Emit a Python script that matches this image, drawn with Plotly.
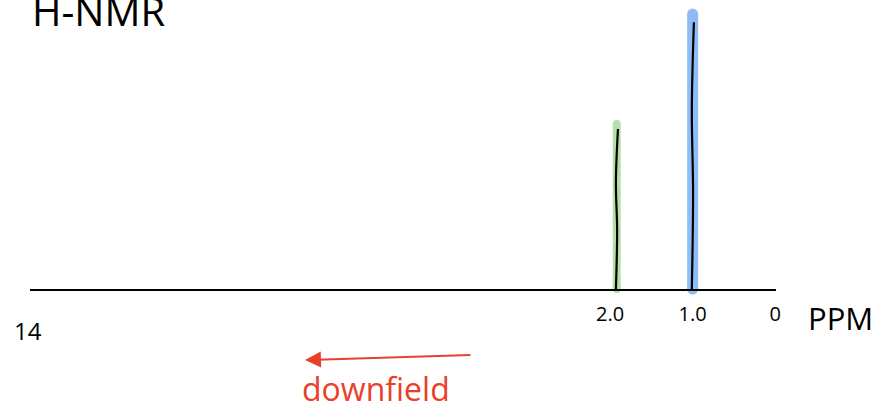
import plotly.graph_objects as go

# Data
peak_shift = [1.92, 1.0]         # ppm
peak_height = [0.60, 1.00]       # relative intensity
tick_vals = [2.0, 1.0, 0.0]
tick_labels = ["2.0", "1.0", "0"]
axis_start_label = "14"
unit_label = "PPM"
title_text = "H-NMR"
direction_label = "downfield"

peak_colors = ["#b6dea8", "#8fbcf5"]
peak_widths = [8, 11]

fig = go.Figure()
for x, h, c, w in zip(peak_shift, peak_height, peak_colors, peak_widths):
    fig.add_trace(go.Scatter(
        x=[x, x], y=[0, h], mode="lines+markers",
        line=dict(color=c, width=w),
        marker=dict(color=c, size=w, line=dict(width=0)),
        cliponaxis=False, hoverinfo="skip", showlegend=False))
for x, h in zip(peak_shift, peak_height):
    fig.add_trace(go.Scatter(
        x=[x - 0.015, x + 0.01, x - 0.005, x + 0.01], y=[h * 0.97, h * 0.65, h * 0.35, 0],
        mode="lines", line=dict(color="black", width=2.2, shape="spline"),
        cliponaxis=False, hoverinfo="skip", showlegend=False))

font_main = "Open Sans, DejaVu Sans, sans-serif"

fig.update_layout(
    width=888, height=409,
    margin=dict(l=30, r=112, t=0, b=120, pad=0, autoexpand=False),
    paper_bgcolor="white", plot_bgcolor="white",
    showlegend=False,
    xaxis=dict(range=[9.03, -0.01], showgrid=False, zeroline=False, automargin=False,
               showline=True, linecolor="black", linewidth=2,
               tickvals=tick_vals, ticktext=tick_labels,
               ticks="outside", ticklen=6, tickcolor="rgba(0,0,0,0)",
               tickfont=dict(size=20, color="black", family=font_main)),
    yaxis=dict(range=[0, 1.051], visible=False, automargin=False),
    font=dict(family=font_main),
)

fig.add_annotation(text=title_text, xref="paper", yref="paper", x=0.0, y=0.965,
                   xanchor="left", yanchor="middle", showarrow=False,
                   font=dict(size=40, color="black", family=font_main))
fig.add_annotation(text=axis_start_label, xref="paper", yref="paper", x=-0.003, y=-0.142,
                   xanchor="center", yanchor="middle", showarrow=False,
                   font=dict(size=24, color="black", family=font_main))
fig.add_annotation(text=unit_label, xref="paper", yref="paper", x=1.086, y=-0.10,
                   xanchor="center", yanchor="middle", showarrow=False,
                   font=dict(size=31, color="black", family=font_main))
fig.add_annotation(text=direction_label, xref="paper", yref="paper", x=0.464, y=-0.345,
                   xanchor="center", yanchor="middle", showarrow=False,
                   font=dict(size=32, color="#e8402a", family=font_main))
fig.add_annotation(text="", xref="paper", yref="paper", x=0.3686, y=-0.2457,
                   ax=167, ay=-5, showarrow=True, arrowhead=2, arrowsize=1.6,
                   arrowwidth=2, arrowcolor="#e8402a")

fig.write_html("out.html", config={"displayModeBar": False},
               post_script="document.body.style.margin='0';document.body.style.overflow='hidden';")
